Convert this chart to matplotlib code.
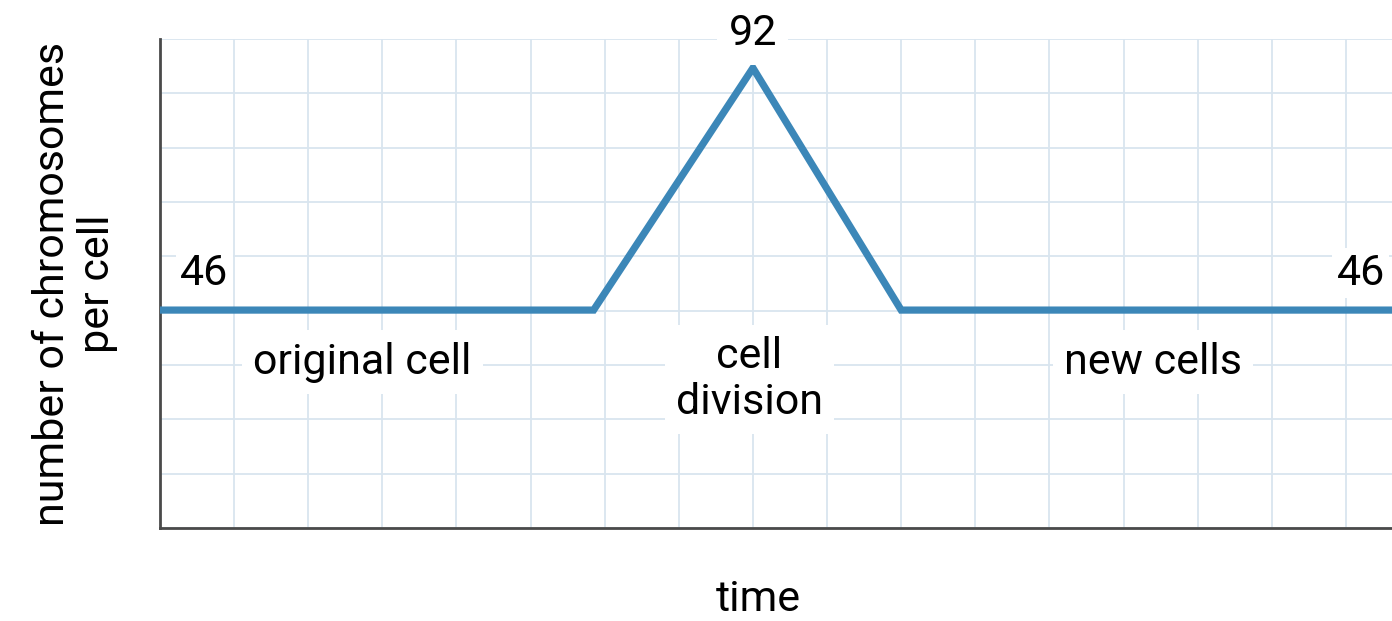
import matplotlib
matplotlib.use("Agg")
import matplotlib.pyplot as plt
import numpy as np

# chromosome count through one cell cycle
time_pts = [0, 5.85, 8, 10, 17]
chromosomes = [46, 46, 92, 46, 46]

stage_names = ["original cell", "cell\ndivision", "new cells"]
stage_x = [2.73, 7.95, 13.4]

plt.rcParams['font.family'] = ['Roboto', 'DejaVu Sans']
FS = 31

fig = plt.figure(figsize=(13.92, 6.21), dpi=100)
ax = fig.add_axes([160/1392, 93/621, 1260/1392, 489/621])

ylo, yhi = 4.6, 97.5
ax.set_xlim(0, 17)
ax.set_ylim(ylo, yhi)

# square-ish grid paper
ax.set_xticks(np.arange(0, 18))
ax.set_yticks(np.linspace(ylo, yhi, 10))
ax.grid(True, color="#d9e5ef", linewidth=1.3)
ax.tick_params(length=0, labelbottom=False, labelleft=False)
ax.set_axisbelow(True)

for s in ["top", "right"]:
    ax.spines[s].set_visible(False)
for s in ["left", "bottom"]:
    ax.spines[s].set_color("#4a4a4a")
    ax.spines[s].set_linewidth(2)

ax.plot(time_pts, chromosomes, color="#3c87b8", linewidth=5.2,
        solid_joinstyle="miter", zorder=3)

box = dict(facecolor="white", edgecolor="none", pad=8)
ax.text(0.6, 53, str(chromosomes[0]), ha="center", va="center",
        fontsize=FS, bbox=dict(facecolor="white", edgecolor="none", pad=3),
        zorder=4)
ax.text(16.2, 53, str(chromosomes[-1]), ha="center", va="center",
        fontsize=FS, bbox=dict(facecolor="white", edgecolor="none", pad=3),
        zorder=4)
ax.text(time_pts[2], 98.6, str(chromosomes[2]), ha="center", va="center",
        fontsize=FS, bbox=box, zorder=4, clip_on=False)

ax.text(stage_x[0], 36.1, stage_names[0], ha="center", va="center",
        fontsize=FS, bbox=box, zorder=4)
ax.text(stage_x[1], 32.8, stage_names[1], ha="center", va="center",
        fontsize=FS, bbox=box, zorder=4, linespacing=1.15)
ax.text(stage_x[2], 36.1, stage_names[2], ha="center", va="center",
        fontsize=FS, bbox=box, zorder=4)

ax.set_xlabel("time", fontsize=FS)
ax.set_ylabel("number of chromosomes\nper cell", fontsize=FS,
              linespacing=1.15)
ax.xaxis.set_label_coords(598/1260, -0.105)
ax.yaxis.set_label_coords(-0.033, 0.5)

fig.savefig("out.png", dpi=100, facecolor="white")
